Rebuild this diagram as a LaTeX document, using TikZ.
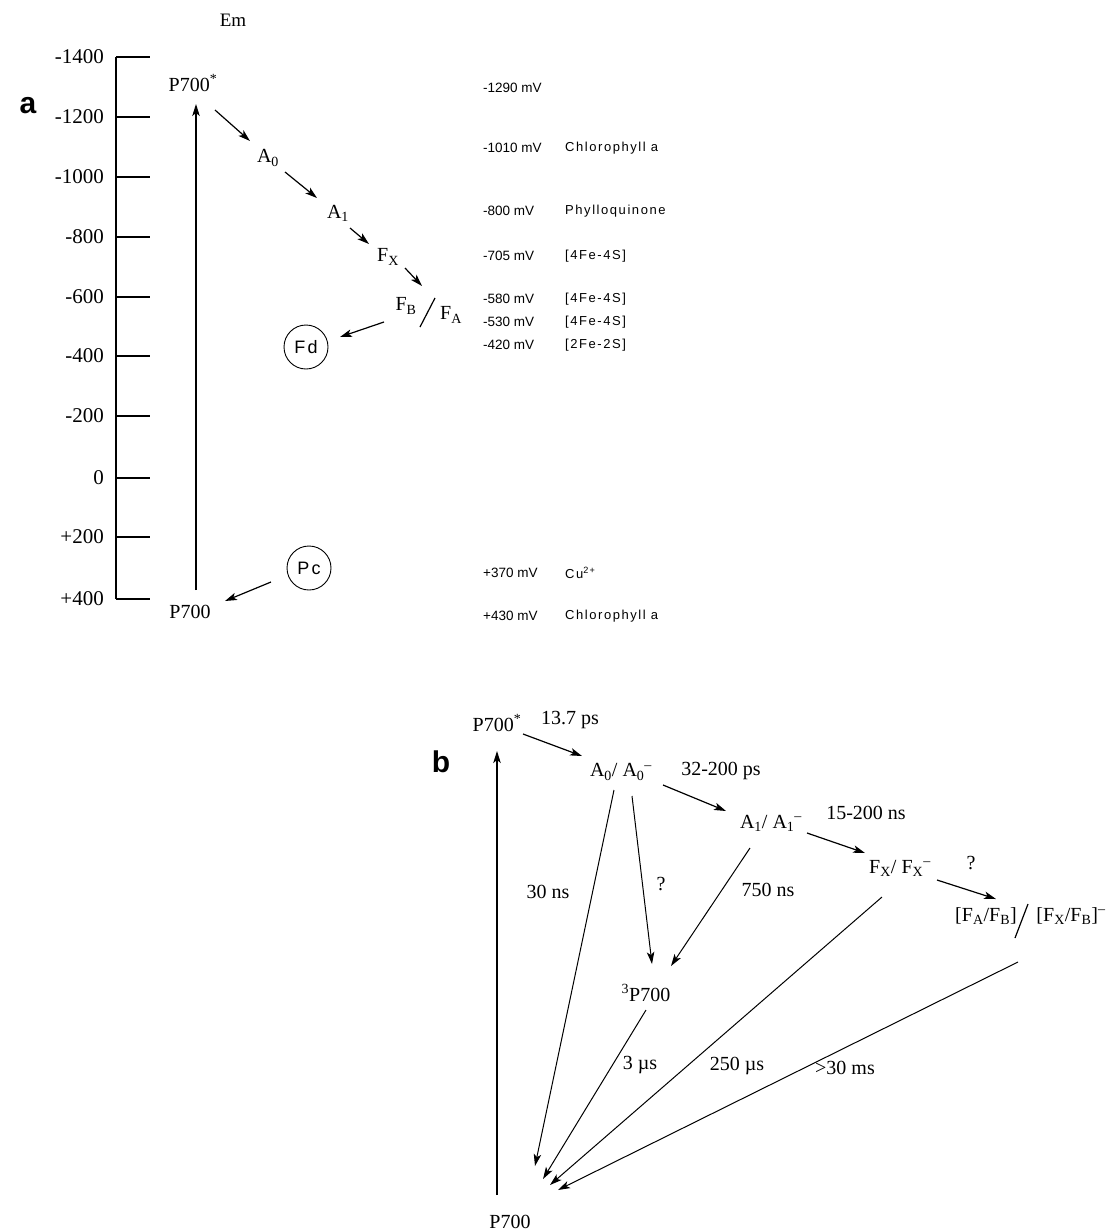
\documentclass[tikz,border=0pt]{standalone}
\usepackage{fontspec}
\setmainfont{Liberation Serif}
\setsansfont{Liberation Sans}
\newfontfamily\namefont{Liberation Sans}[LetterSpace=12]
\usetikzlibrary{arrows.meta}
\newcommand{\sbx}[1]{\textsubscript{#1}}
\newcommand{\spx}[1]{\textsuperscript{#1}}
\begin{document}
\begin{tikzpicture}[x=1pt,y=-1pt,
  ax/.style={line width=1.1pt},
  arr/.style={line width=1.2pt,-{Stealth[length=12pt,width=7.5pt,inset=3pt]}},
  thin arr/.style={line width=1pt,-{Stealth[length=12pt,width=7.5pt,inset=3pt]}},
  lbl/.style={font=\fontsize{21}{23}\selectfont, inner sep=0},
  mv/.style={font=\sffamily\fontsize{13.5}{15}\selectfont, anchor=west, inner sep=0},
  nm/.style={font=\namefont\fontsize{13}{15}\selectfont, anchor=west, inner sep=0},
  sp/.style={font=\fontsize{20}{22}\selectfont, inner sep=1pt},
  rate/.style={font=\fontsize{20}{22}\selectfont, inner sep=1pt},
  circ/.style={draw, circle, line width=0.9pt, minimum size=44pt, inner sep=0, font=\namefont\fontsize{18}{20}\selectfont},
  panel/.style={font=\sffamily\bfseries\fontsize{30}{32}\selectfont, inner sep=0},
]
\useasboundingbox (0,0) rectangle (1113,1232);

% ---------------- panel a ----------------
\node[panel] (pa) at (28,106) {a};
\node[font=\fontsize{19}{21}\selectfont] (em) at (233,20) {Em};
\coordinate (axtop) at (116,57);
\coordinate (axbot) at (116,599);
\draw[ax] (axtop) -- (axbot);
\foreach \v/\y/\n in {-1400/57/a,-1200/117/b,-1000/177/c,-800/237/d,-600/297/e,-400/356/f,-200/416/g,0/478/h,+200/537/i,+400/599/j}{
  \coordinate (tl\n) at (116,\y);
  \coordinate (tr\n) at (150,\y);
  \draw[ax] (tl\n) -- (tr\n);
  \node[lbl,anchor=east] (tv\n) at (104,\y) {\v};
}

\node[sp] (Pst) at (193,83) {P700\spx{*}};
\node[sp] (Pa) at (190,612) {P700};
\coordinate (va1) at (196,590);
\coordinate (va2) at (196,104);
\draw[arr] (va1) -- (va2);

\node[sp] (A0a) at (268,158) {A\sbx{0}};
\node[sp] (A1a) at (338,213) {A\sbx{1}};
\node[sp] (FXa) at (388,257) {F\sbx{X}};
\node[sp] (FBa) at (406,306) {F\sbx{B}};
\node[sp] (FAa) at (451,315) {F\sbx{A}};
\coordinate (sl1) at (420,327);
\coordinate (sl2) at (435,298);
\draw[line width=1.2pt] (sl1) -- (sl2);

\coordinate (c1) at (215,110); \coordinate (c2) at (250,141);
\coordinate (c3) at (285,172); \coordinate (c4) at (317,198);
\coordinate (c5) at (350,228); \coordinate (c6) at (369,244);
\coordinate (c7) at (405,268); \coordinate (c8) at (422,286);
\draw[arr] (c1) -- (c2);
\draw[arr] (c3) -- (c4);
\draw[arr] (c5) -- (c6);
\draw[arr] (c7) -- (c8);

\node[circ] (Fd) at (306,347) {Fd};
\node[circ] (Pc) at (309,568) {Pc};
\coordinate (fd1) at (384,322); \coordinate (fd2) at (340,337);
\draw[arr] (fd1) -- (fd2);
\coordinate (pc1) at (271,582); \coordinate (pc2) at (225,601);
\draw[arr] (pc1) -- (pc2);

\foreach \y/\t/\m/\n in {88/-1290 mV//a,148/-1010 mV/Chlorophyll a/b,211/-800 mV/Phylloquinone/c,256/-705 mV/[4Fe-4S]/d,299/-580 mV/[4Fe-4S]/e,322/-530 mV/[4Fe-4S]/f,345/-420 mV/[2Fe-2S]/g,616/+430 mV/Chlorophyll a/i}{
  \node[mv] (mv\n) at (483,\y) {\t};
  \node[nm] (ms\n) at (565,\y) {\m};
}
\node[mv] (mvh) at (483,573) {+370 mV};
\node[nm] (msh) at (565,573) {Cu\spx{2+}};

% ---------------- panel b ----------------
\node[panel] (pb) at (441,762) {b};
\node[sp] (Pbs) at (497,723) {P700\spx{*}};
\node[sp] (Pb) at (510,1222) {P700};
\coordinate (vb1) at (497,1195);
\coordinate (vb2) at (497,751);
\draw[arr] (vb1) -- (vb2);

\node[sp] (A0b) at (621,772) {A\sbx{0}/ A\sbx{0}\spx{--}};
\node[sp] (A1b) at (771,823) {A\sbx{1}/ A\sbx{1}\spx{--}};
\node[sp] (FXb) at (900,868) {F\sbx{X}/ F\sbx{X}\spx{--}};
\node[sp] (FABl) at (986,916) {[F\sbx{A}/F\sbx{B}]};
\node[sp] (FABr) at (1071,916) {[F\sbx{X}/F\sbx{B}]\spx{--}};
\coordinate (sb1) at (1015,938);
\coordinate (sb2) at (1028,904);
\draw[line width=1.2pt] (sb1) -- (sb2);
\node[sp] (P3) at (646,993) {\spx{3}P700};

\node[rate] (r1) at (570,720) {13.7 ps};
\node[rate] (r2) at (721,771) {32-200 ps};
\node[rate] (r3) at (866,813) {15-200 ns};
\node[rate] (r4) at (971,863) {?};
\node[rate] (r5) at (548,892) {30 ns};
\node[rate] (r6) at (661,884) {?};
\node[rate] (r7) at (768,890) {750 ns};
\node[rate] (r8) at (640,1065) {3 µs};
\node[rate] (r9) at (737,1066) {250 µs};
\node[rate] (r10) at (845,1068) {>30 ms};

\coordinate (b1) at (523,734); \coordinate (b2) at (582,756);
\coordinate (b3) at (663,785); \coordinate (b4) at (726,811);
\coordinate (b5) at (807,833); \coordinate (b6) at (865,853);
\coordinate (b7) at (937,880); \coordinate (b8) at (996,899);
\draw[arr] (b1) -- (b2);
\draw[arr] (b3) -- (b4);
\draw[arr] (b5) -- (b6);
\draw[arr] (b7) -- (b8);

\coordinate (d1s) at (614,790);  \coordinate (d1e) at (535,1166);
\coordinate (d2s) at (632,796);  \coordinate (d2e) at (652,964);
\coordinate (d3s) at (750,848);  \coordinate (d3e) at (671,966);
\coordinate (d4s) at (646,1010); \coordinate (d4e) at (543,1179);
\coordinate (d5s) at (882,897);  \coordinate (d5e) at (550,1185);
\coordinate (d6s) at (1018,962); \coordinate (d6e) at (558,1190);
\foreach \k in {1,...,6}{ \draw[thin arr] (d\k s) -- (d\k e); }
\end{tikzpicture}
\end{document}
